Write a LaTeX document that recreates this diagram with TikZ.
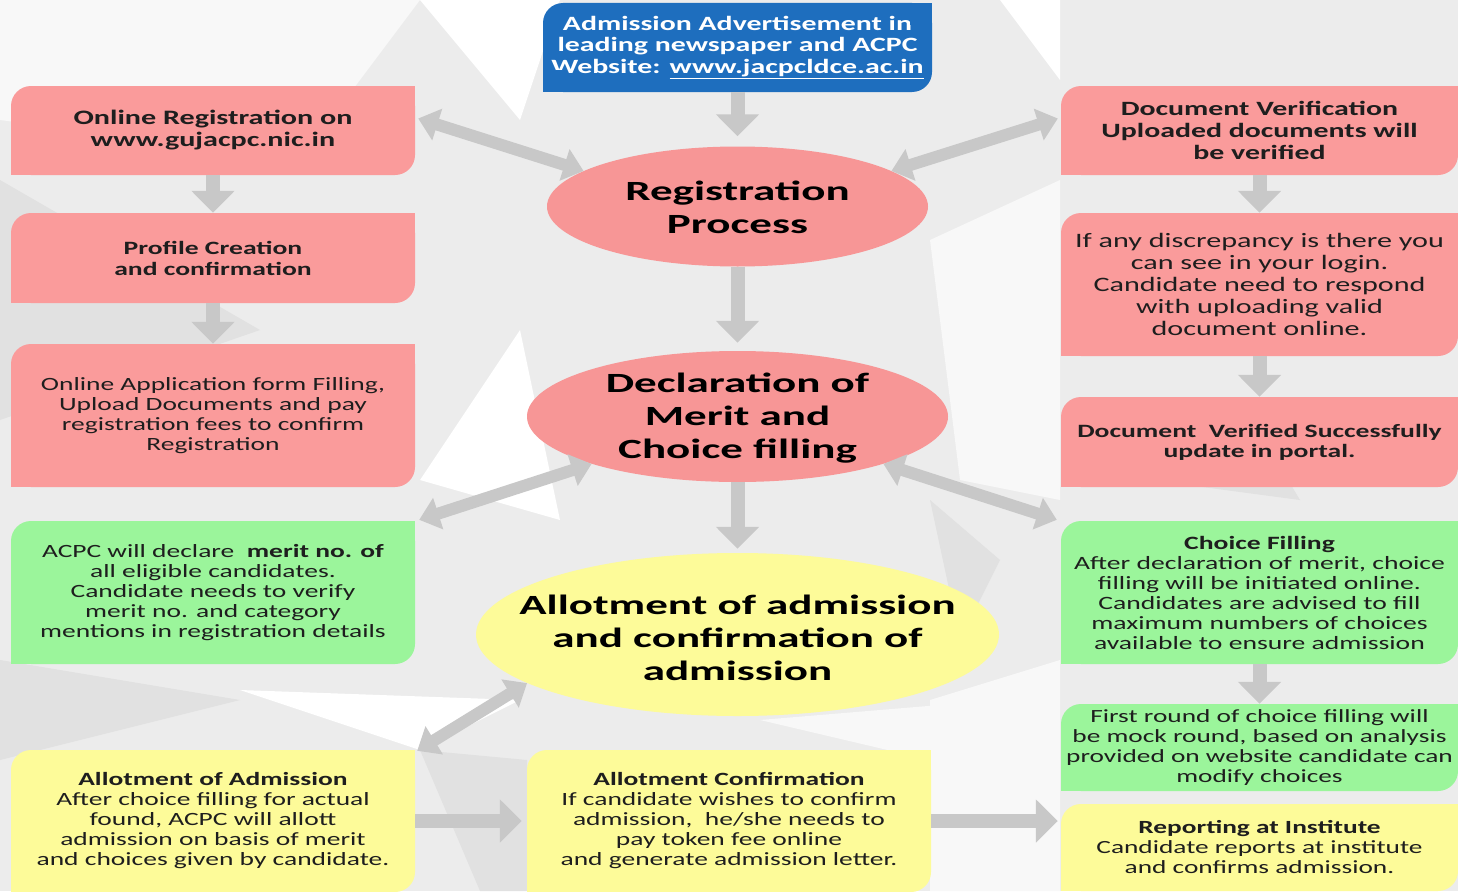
\documentclass[tikz,border=0pt]{standalone}
\usepackage{fontspec}
\setmainfont{Carlito}[FakeStretch=1.47]
\newfontfamily\ovalfont{Carlito}[FakeStretch=1.62]
\usetikzlibrary{arrows.meta,calc,shapes.geometric}
\definecolor{pinkc}{RGB}{250,155,155}
\definecolor{pinke}{RGB}{247,150,150}
\definecolor{greenc}{RGB}{155,245,155}
\definecolor{yellowc}{RGB}{253,251,153}
\definecolor{bluec}{RGB}{30,110,190}
\definecolor{arrowc}{RGB}{200,200,200}
\definecolor{txt}{RGB}{30,30,30}
\definecolor{bga}{RGB}{236,236,236}
\definecolor{bgb}{RGB}{225,225,225}
\definecolor{bgc}{RGB}{248,248,248}
\newcommand\fs[2]{\fontsize{#1}{#2}\selectfont}
\newcommand\ovaltext[2]{\raisebox{#1}[0pt][0pt]{\makebox[0pt]{\begin{tabular}{@{}c@{}}#2\end{tabular}}}}
\newcommand\leafcorners[2]{%
  \fill[#2] (#1.north east) rectangle ++(-22,22);
  \fill[#2] (#1.south west) rectangle ++(22,-22);}
\tikzset{
  leaf/.style={rounded corners=20pt, align=center, inner sep=0pt, text=txt, minimum width=#1},
  leaf/.default=404,
  oval/.style={ellipse, inner sep=0pt, text=black, font=\ovalfont\bfseries\fs{27.8}{33}},
  barrow/.style={draw=arrowc, line width=14pt, -{Triangle[width=42pt,length=22pt]}},
  darrow/.style={draw=arrowc, line width=12pt, {Triangle[width=32pt,length=20pt]}-{Triangle[width=32pt,length=20pt]}},
}
\begin{document}
\begin{tikzpicture}[x=1pt,y=-1pt]
\useasboundingbox (0,0) rectangle (1458,891);
% background
\fill[bga] (0,0) rectangle (1458,891);
\fill[bgc] (0,0) -- (420,0) -- (300,160) -- (0,120) -- cycle;
\fill[bgb] (0,180) -- (260,330) -- (0,420) -- cycle;
\fill[white] (420,0) -- (560,0) -- (520,120) -- cycle;
\fill[bgc] (930,240) -- (1060,180) -- (1060,500) -- (960,480) -- cycle;
\fill[white] (420,480) -- (520,330) -- (560,520) -- cycle;
\fill[bgb] (0,660) -- (240,700) -- (0,760) -- cycle;
\fill[white] (240,690) -- (520,700) -- (420,750) -- cycle;
\fill[bgc] (930,700) -- (1060,660) -- (1060,891) -- (930,891) -- cycle;
\fill[bgb] (420,750) -- (527,760) -- (527,891) -- (480,891) -- cycle;
\fill[bgc] (760,720) -- (1000,700) -- (930,760) -- cycle;
\fill[bgb] (1150,480) -- (1240,400) -- (1300,500) -- cycle;
\fill[white] (1000,0) -- (1060,0) -- (1060,80) -- cycle;
\fill[bgb] (930,500) -- (1000,560) -- (960,640) -- cycle;

% top blue box
\node[leaf=389, fill=bluec, minimum height=89, text=white, font=\bfseries\fs{20.3}{21.5}] (blue) at (737.5,47.5)
  {Admission Advertisement in\\ leading newspaper and ACPC\\ Website: \underline{www.jacpcldce.ac.in}};
\leafcorners{blue}{bluec}

% left column
\node[leaf, fill=pinkc, minimum height=89, font=\bfseries\fs{20.5}{22}] (L1) at (213,130.5)
  {Online Registration on\\ www.gujacpc.nic.in};
\leafcorners{L1}{pinkc}
\node[leaf, fill=pinkc, minimum height=90, font=\bfseries\fs{18.8}{21}] (L2) at (213,258)
  {Profile Creation\\ and confirmation};
\leafcorners{L2}{pinkc}
\node[leaf, fill=pinkc, minimum height=143, font=\fs{18.7}{20}] (L3) at (213,415.5)
  {Online Application form Filling,\\ Upload Documents and pay\\ registration fees to confirm\\ Registration};
\leafcorners{L3}{pinkc}
\node[leaf, fill=greenc, minimum height=143, font=\fs{18.7}{20}] (LG) at (213,592.5)
  {ACPC will declare \ \textbf{merit no. of}\\ all eligible candidates.\\ Candidate needs to verify\\ merit no. and category\\ mentions in registration details};
\leafcorners{LG}{greenc}
\node[leaf, fill=yellowc, minimum height=142, font=\fs{18.7}{20}] (LY) at (213,821)
  {\textbf{Allotment of Admission}\\ After choice filling for actual\\ found, ACPC will allott\\ admission on basis of merit\\ and choices given by candidate.};
\leafcorners{LY}{yellowc}
\node[leaf, fill=yellowc, minimum height=142, font=\fs{18.7}{20}] (MY) at (729,821)
  {\textbf{Allotment Confirmation}\\ If candidate wishes to confirm\\ admission, \ he/she needs to\\ pay token fee online\\ and generate admission letter.};
\leafcorners{MY}{yellowc}

% right column
\node[leaf=397, fill=pinkc, minimum height=89, font=\bfseries\fs{20.3}{22}] (R1) at (1259.5,130.5)
  {Document Verification\\ Uploaded documents will\\ be verified};
\leafcorners{R1}{pinkc}
\node[leaf=397, fill=pinkc, minimum height=143, font=\fs{20.5}{22}] (R2) at (1259.5,284.5)
  {If any discrepancy is there you\\ can see in your login.\\ Candidate need to respond\\ with uploading valid\\ document online.};
\leafcorners{R2}{pinkc}
\node[leaf=397, fill=pinkc, minimum height=90, font=\bfseries\fs{18.8}{20}] (R3) at (1259.5,442)
  {Document \ Verified Successfully\\ update in portal.};
\leafcorners{R3}{pinkc}
\node[leaf=397, fill=greenc, minimum height=143, font=\fs{18.8}{20}] (RG) at (1259.5,592.5)
  {\textbf{Choice Filling}\\ After declaration of merit, choice\\ filling will be initiated online.\\ Candidates are advised to fill\\ maximum numbers of choices\\ available to ensure admission};
\leafcorners{RG}{greenc}
\node[leaf=397, fill=greenc, minimum height=87, font=\fs{18.6}{20}] (RG2) at (1259.5,747.5)
  {First round of choice filling will\\ be mock round, based on analysis\\ provided on website candidate can\\ modify choices};
\leafcorners{RG2}{greenc}
\node[leaf=397, fill=yellowc, minimum height=87, font=\fs{18.6}{20}] (RY) at (1259.5,847.5)
  {\textbf{Reporting at Institute}\\ Candidate reports at institute\\ and confirms admission.};
\leafcorners{RY}{yellowc}

% ellipses
\node[oval, fill=pinke, minimum width=381, minimum height=120] (reg) at (737.5,206.5)
  {\ovaltext{-10pt}{Registration\\ Process}};
\node[oval, fill=pinke, minimum width=421, minimum height=131] (decl) at (737.5,416.5)
  {\ovaltext{-9pt}{Declaration of\\ Merit and\\ Choice filling}};
\node[oval, fill=yellowc, minimum width=523, minimum height=163] (allot) at (737.5,634.5)
  {\ovaltext{-13pt}{Allotment of admission\\ and confirmation of\\ admission}};

% connectors
\draw[barrow, shorten >=10pt] (blue.south) -- (reg.north);
\draw[barrow, shorten >=8pt] (reg.south) -- (decl.north);
\draw[barrow, shorten >=4pt] (decl.south) -- (allot.north);
\draw[darrow] ($(L1.east)+(3,-12)$) -- (reg.167);
\draw[darrow] ($(R1.west)+(-3,-12)$) -- (reg.13);
\draw[darrow] (decl.198) -- ($(LG.north east)+(4,-1)$);
\draw[darrow] (decl.342) -- ($(RG.north west)+(-4,-1)$);
\draw[darrow] (allot.193) -- ($(LY.north east)+(2,1)$);
\draw[barrow] (L1.south) -- (L2.north);
\draw[barrow] (L2.south) -- (L3.north);
\draw[barrow] (R1.south) -- (R2.north);
\draw[barrow] (R2.south) -- (R3.north);
\draw[barrow] (RG.south) -- (RG2.north);
\draw[barrow, shorten >=5pt] (LY.east) -- (MY.west);
\draw[barrow, shorten >=3pt] (MY.east) -- (MY.east -| RY.west);
\end{tikzpicture}
\end{document}
